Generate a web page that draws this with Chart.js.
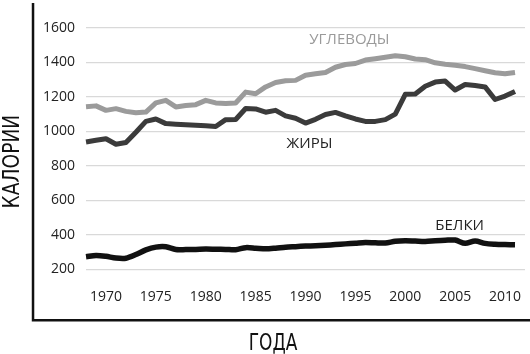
<!DOCTYPE html>
<html>
<head>
<meta charset="utf-8">
<script src="https://cdn.jsdelivr.net/npm/chart.js@4"></script>
<style>
  html, body { margin: 0; padding: 0; background: #ffffff; }
  canvas { display: block; }
</style>
</head>
<body>
<canvas id="c" width="530" height="354"></canvas>
<script>
// ---- data ----
const years = [1968,1969,1970,1971,1972,1973,1974,1975,1976,1977,1978,1979,1980,1981,1982,1983,1984,1985,1986,1987,1988,1989,1990,1991,1992,1993,1994,1995,1996,1997,1998,1999,2000,2001,2002,2003,2004,2005,2006,2007,2008,2009,2010,2011,2012];
const carbs = [1143,1148,1122,1132,1116,1108,1112,1165,1180,1142,1150,1155,1180,1165,1162,1165,1228,1218,1258,1284,1294,1296,1326,1334,1342,1372,1388,1394,1414,1422,1430,1439,1433,1420,1416,1398,1390,1384,1376,1364,1352,1340,1334,1342];
const fats = [938,948,957,925,935,995,1058,1072,1045,1042,1038,1035,1032,1028,1068,1069,1133,1130,1111,1122,1090,1076,1048,1070,1098,1110,1090,1072,1058,1058,1068,1100,1215,1217,1262,1286,1292,1240,1272,1266,1258,1185,1205,1232];
const proteins = [272,280,275,265,264,285,312,328,330,314,314,315,317,316,315,313,325,322,318,322,328,331,334,336,339,343,347,351,355,353,352,362,365,363,361,365,368,369,350,364,350,345,343,342];
const yTicks = [200,400,600,800,1000,1200,1400,1600];
const seriesNames = ['УГЛЕВОДЫ','ЖИРЫ','БЕЛКИ'];
const seriesLabelYears = [1994.4, 1990.4, 2005.45];
const seriesLabelValues = [1532, 931, 452];
const xTitle = 'ГОДА';
const yTitle = 'КАЛОРИИ';

const tickFont = "'Open Sans', 'Noto Sans', sans-serif";
const titleFont = "'Liberation Sans Narrow', 'DejaVu Sans Condensed', 'Liberation Sans', sans-serif";
const seriesColors = ['#9b9b9b', '#3b3b3b', '#111111'];
const seriesTextColors = ['#9a9a9a', '#222222', '#222222'];

const decor = {
  id: 'decor',
  afterDraw(chart) {
    const ctx = chart.ctx;
    const xs = chart.scales.x, ys = chart.scales.y;
    const area = chart.chartArea;
    const ax = area.left - 53;
    const ay = area.bottom + 51;
    ctx.save();
    // axis lines
    ctx.strokeStyle = '#111';
    ctx.lineWidth = 2.5;
    ctx.lineCap = 'butt';
    ctx.beginPath();
    ctx.moveTo(ax, 3);
    ctx.lineTo(ax, ay);
    ctx.lineTo(chart.width, ay);
    ctx.stroke();
    // axis titles
    ctx.fillStyle = '#111';
    ctx.font = "23px " + titleFont;
    ctx.textAlign = 'center';
    ctx.textBaseline = 'middle';
    ctx.save();
    ctx.translate(273, ay + 24);
    ctx.scale(0.82, 1);
    ctx.fillText(xTitle, 0, 0);
    ctx.restore();
    ctx.save();
    ctx.translate(13, (3 + ay) / 2);
    ctx.rotate(-Math.PI / 2);
    ctx.scale(0.9, 1);
    ctx.fillText(yTitle, 0, 0);
    ctx.restore();
    // series labels
    ctx.font = "15px " + tickFont;
    for (let i = 0; i < seriesNames.length; i++) {
      ctx.fillStyle = seriesTextColors[i];
      const px = xs.getPixelForValue(seriesLabelYears[i] - years[0]);
      const py = ys.getPixelForValue(seriesLabelValues[i]);
      ctx.fillText(seriesNames[i], px, py);
    }
    ctx.restore();
  }
};

new Chart(document.getElementById('c'), {
  type: 'line',
  data: {
    labels: years,
    datasets: [
      { label: seriesNames[0], data: carbs, borderColor: seriesColors[0], borderWidth: 5, tension: 0, pointRadius: 0, borderJoinStyle: 'round', fill: false },
      { label: seriesNames[1], data: fats, borderColor: seriesColors[1], borderWidth: 5, tension: 0, pointRadius: 0, borderJoinStyle: 'round', fill: false },
      { label: seriesNames[2], data: proteins, borderColor: seriesColors[2], borderWidth: 5.5, tension: 0.3, pointRadius: 0, borderJoinStyle: 'round', fill: false }
    ]
  },
  options: {
    responsive: false,
    animation: false,
    devicePixelRatio: 1,
    layout: { padding: { left: 32, right: 5, top: 28, bottom: 30 } },
    plugins: { legend: { display: false }, tooltip: { enabled: false } },
    scales: {
      x: {
        type: 'category',
        offset: false,
        grid: { display: false, drawTicks: false },
        border: { display: false },
        afterFit: (s) => { s.paddingRight = 0; s.paddingLeft = 0; },
        ticks: {
          autoSkip: false,
          maxRotation: 0,
          padding: 19,
          color: '#222',
          font: { family: tickFont, size: 14 },
          callback: function(v, i) { const yr = years[i]; return (yr % 5 === 0 && yr <= 2010) ? String(yr) : ''; }
        }
      },
      y: {
        min: yTicks[0],
        max: yTicks[yTicks.length - 1],
        afterBuildTicks: (s) => { s.ticks = yTicks.map(v => ({ value: v })); },
        grid: { color: '#d9d9d9', lineWidth: 1.2, drawTicks: false },
        border: { display: false },
        ticks: {
          padding: 11,
          color: '#222',
          font: { family: tickFont, size: 14 },
          callback: (v) => String(v)
        }
      }
    }
  },
  plugins: [decor]
});
</script>
</body>
</html>
